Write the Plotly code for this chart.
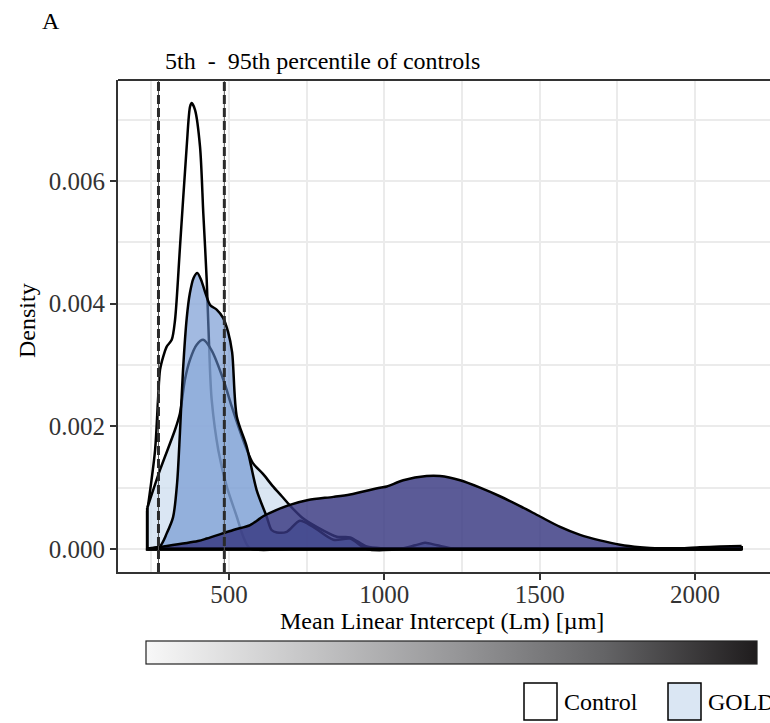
import plotly.graph_objects as go

W, H = 770, 723
FONT = "Liberation Serif"

# ---------------- data ----------------
control_x = [237, 262, 271.5, 278, 288.5, 299.5, 315.6, 326.2, 342.3, 363.8, 374.5, 380, 390.6,
             406.7, 417.3, 428.2, 438.8, 444.3, 465.6, 492.6, 524.8, 546, 567.6, 700, 1000, 1500, 2150]
control_y = [0.00062, 0.00161, 0.00243, 0.00292, 0.00314, 0.0033, 0.00341, 0.00373, 0.00493, 0.00656,
             0.00721, 0.00727, 0.00716, 0.00656, 0.00547, 0.00439, 0.00292, 0.00243, 0.00161, 0.00102,
             0.00053, 0.0002, 0.00001, 0, 0, 0, 0]

gold1_x = [237, 278, 326, 342, 358, 374, 396, 417, 444, 482, 509, 530, 555, 577, 610, 640, 670, 696,
           738, 782, 847, 890, 943, 1000, 1500, 2150]
gold1_y = [0.00067, 0.00129, 0.00194, 0.00221, 0.00276, 0.00308, 0.00333, 0.00341, 0.00324, 0.00276,
           0.00232, 0.002, 0.00165, 0.0014, 0.00122, 0.00103, 0.00086, 0.00071, 0.0005, 0.00036,
           0.0002, 0.00019, 0.00004, 0.00001, 0, 0]

gold2_x = [237, 278, 300, 320, 333, 342, 352, 364, 374, 386, 398, 410, 423, 439, 461, 481, 497, 510,
           525, 557, 589, 621, 637, 654, 686, 728, 771, 836, 890, 943, 1050, 1100, 1131, 1170, 1220,
           1300, 1500, 2150]
gold2_y = [0, 0.00005, 0.00026, 0.00052, 0.00108, 0.00189, 0.00292, 0.00377, 0.00417, 0.00442, 0.0045,
           0.00439, 0.00419, 0.00398, 0.0039, 0.00377, 0.00354, 0.00321, 0.00216, 0.00167, 0.00096,
           0.00053, 0.00031, 0.00027, 0.00028, 0.00046, 0.00036, 0.00015, 0.00017, 0, 0, 0.00006,
           0.0001, 0.00006, 0.00001, 0, 0, 0]

gold3_x = [237, 300, 400, 428, 514, 568, 600, 616, 650, 696, 755, 836, 890, 986, 1008, 1061, 1136, 1179,
           1244, 1308, 1372, 1437, 1501, 1566, 1630, 1694, 1759, 1823, 1887, 1952, 2016, 2080, 2150]
gold3_y = [0.00001, 0.00005, 0.00013, 0.00017, 0.00031, 0.00039, 0.0005, 0.00055, 0.00063, 0.00072,
           0.0008, 0.00085, 0.00089, 0.001, 0.00102, 0.00112, 0.00119, 0.00119, 0.00112, 0.001,
           0.00086, 0.0007, 0.00053, 0.00036, 0.00023, 0.00014, 0.00007, 0.00003, 0.00001, 0.00001,
           0.00003, 0.00004, 0.00005]

group_names = ["Control", "GOLD 1", "GOLD 2", "GOLD 3"]
percentile_lines = [273, 485]          # 5th and 95th percentile of controls
lm_range = [237, 2150]                 # colour scale range (Mean Linear Intercept)

x_range = [142.7, 2241.4]
y_range = [-0.000375, 0.007647]

# ---------------- styles ----------------
fills = ["rgba(255,255,255,0.5)", "rgba(193,213,235,0.6)",
         "rgba(100,140,205,0.6)", "rgba(55,55,128,0.82)"]
legend_fill = ["#ffffff", "#dae6f3"]


def pxx(p):
    return p / W


def pxy(p):
    return 1 - p / H


fig = go.Figure()

series = [(control_x, control_y), (gold1_x, gold1_y), (gold2_x, gold2_y), (gold3_x, gold3_y)]
for name, (xs, ys), fc in zip(group_names, series, fills):
    fig.add_trace(go.Scatter(
        x=xs, y=ys, name=name, mode="lines", fill="tozeroy", fillcolor=fc,
        line=dict(color="black", width=2.5, shape="spline", smoothing=0.8),
        showlegend=False, hoverinfo="skip"))
    # vertical edges + baseline of the density polygon
    fig.add_trace(go.Scatter(
        x=[xs[0], xs[0], xs[-1], xs[-1]], y=[ys[0], 0, 0, ys[-1]], mode="lines",
        line=dict(color="black", width=2.8), showlegend=False, hoverinfo="skip"))

# colour bar legend (continuous scale)
fig.add_trace(go.Scatter(
    x=lm_range, y=[None, None], mode="markers", showlegend=False, hoverinfo="skip",
    marker=dict(color=lm_range, cmin=lm_range[0], cmax=lm_range[1], size=1,
                colorscale=[[0, "#f8f8f8"], [0.25, "#c8c8c9"], [0.5, "#98989a"],
                            [0.75, "#646466"], [1, "#1f1c1d"]],
                showscale=True,
                colorbar=dict(orientation="h", xanchor="left", x=pxx(146), yanchor="top", y=pxy(641),
                              lenmode="pixels", len=611, thicknessmode="pixels", thickness=23,
                              xpad=0, ypad=0, outlinewidth=1.2, outlinecolor="#222",
                              showticklabels=False, ticks=""))))

grid = "#ebebeb"
axis_col = "#333333"
fig.update_layout(
    width=W, height=H, margin=dict(l=0, r=0, t=0, b=0, autoexpand=False),
    paper_bgcolor="white", plot_bgcolor="white",
    font=dict(family=FONT, size=24, color="black"),
    xaxis=dict(domain=[pxx(118), 1], range=x_range, tick0=0, dtick=500,
               showgrid=True, gridcolor=grid, gridwidth=2, zeroline=False,
               minor=dict(tick0=0, dtick=250, showgrid=True, gridcolor=grid, gridwidth=1.5),
               showline=True, linecolor=axis_col, linewidth=2,
               ticks="outside", ticklen=6, tickwidth=2, tickcolor=axis_col, ticklabelstandoff=-7,
               tickfont=dict(family=FONT, size=25, color="#333333")),
    yaxis=dict(domain=[pxy(572), pxy(80)], range=y_range, tick0=0, dtick=0.002, tickformat=".3f",
               showgrid=True, gridcolor=grid, gridwidth=2, zeroline=False,
               minor=dict(tick0=0, dtick=0.001, showgrid=True, gridcolor=grid, gridwidth=1.5),
               showline=True, linecolor=axis_col, linewidth=2,
               ticks="outside", ticklen=6, tickwidth=2, tickcolor=axis_col,
               tickfont=dict(family=FONT, size=25, color="#333333")),
)

shapes = []
# top border of panel
shapes.append(dict(type="line", xref="paper", yref="paper", x0=pxx(118), x1=1, y0=pxy(80), y1=pxy(80),
                   line=dict(color=axis_col, width=2), layer="above"))
for v in percentile_lines:
    shapes.append(dict(type="line", xref="x", yref="y domain", x0=v, x1=v, y0=0, y1=1,
                       line=dict(color="#555555", width=1), layer="above"))
    shapes.append(dict(type="line", xref="x", yref="y domain", x0=v, x1=v, y0=0, y1=1,
                       line=dict(color="#2a2a2a", width=3, dash="9px,4px"), layer="above"))
# discrete legend keys
key_left = [524, 668]
for xl, fc in zip(key_left, legend_fill):
    shapes.append(dict(type="rect", xref="paper", yref="paper", x0=pxx(xl), x1=pxx(xl + 33),
                       y0=pxy(720), y1=pxy(683), fillcolor=fc, line=dict(color="black", width=1.5)))
fig.update_layout(shapes=shapes)

ann = []
ann.append(dict(text="A", x=pxx(40), y=pxy(21), xref="paper", yref="paper", xanchor="left",
                yanchor="middle", showarrow=False, font=dict(size=24)))
ann.append(dict(text="5th  -  95th percentile of controls", x=pxx(163), y=pxy(61), xref="paper",
                yref="paper", xanchor="left", yanchor="middle", showarrow=False, font=dict(size=24)))
ann.append(dict(text="Mean Linear Intercept (Lm) [µm]", x=pxx(442), y=pxy(621), xref="paper",
                yref="paper", xanchor="center", yanchor="middle", showarrow=False, font=dict(size=24)))
ann.append(dict(text="Density", x=pxx(27), y=pxy(321), xref="paper", yref="paper", xanchor="center",
                yanchor="middle", showarrow=False, textangle=-90, font=dict(size=24)))
for xl, name in zip(key_left, group_names[:2]):
    ann.append(dict(text=name, x=pxx(xl + 38), y=pxy(702), xref="paper", yref="paper", xanchor="left",
                    yanchor="middle", showarrow=False, font=dict(size=24)))
fig.update_layout(annotations=ann)

fig.write_html("out.html")
